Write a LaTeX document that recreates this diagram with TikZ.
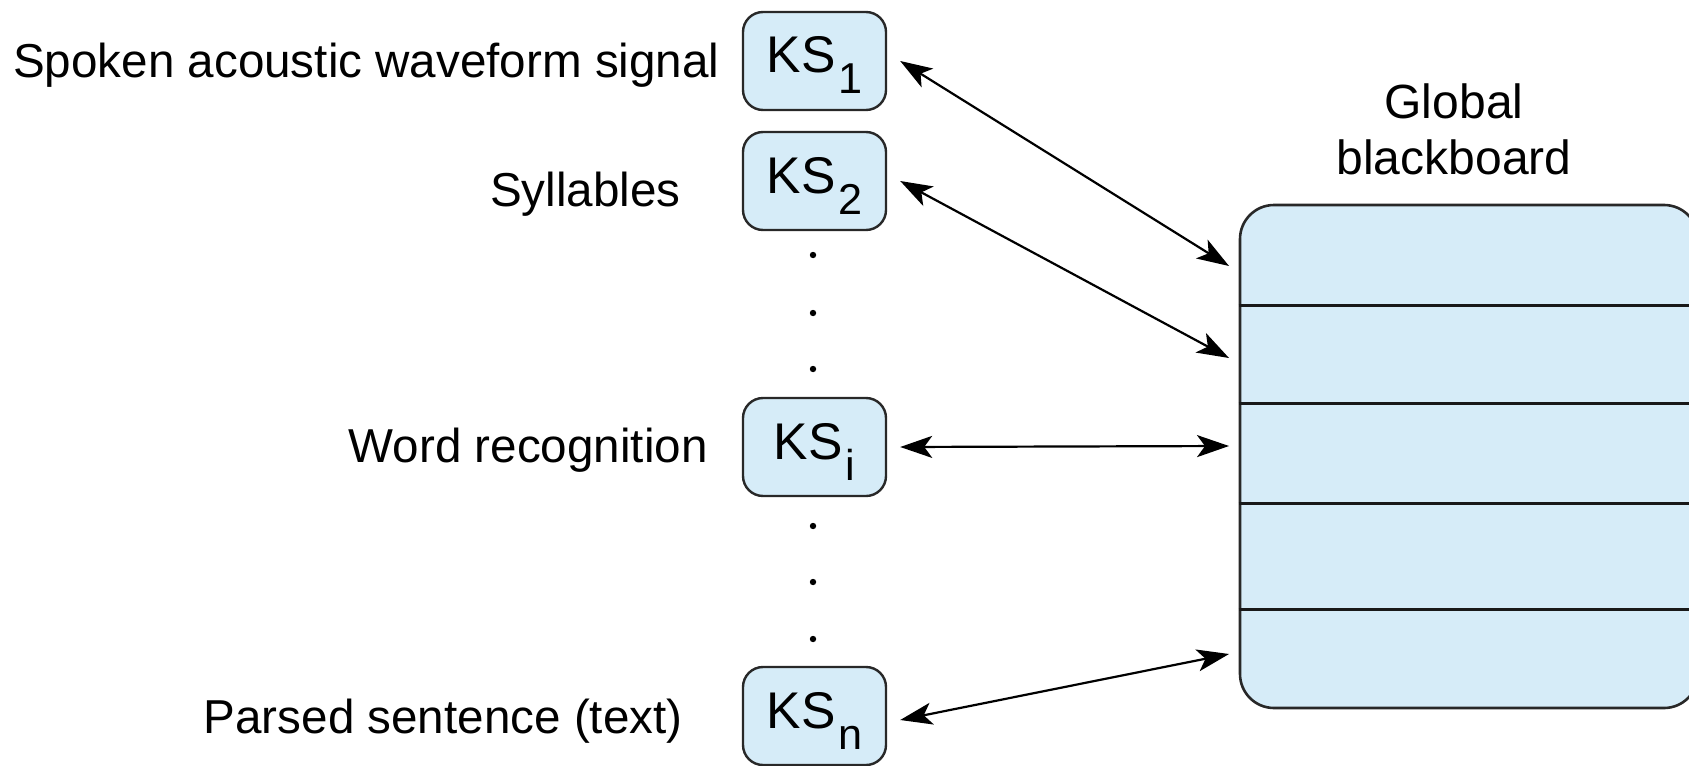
\documentclass[tikz,border=0pt]{standalone}
\usepackage{fontspec}
\setmainfont{Liberation Sans}
\usetikzlibrary{arrows.meta}
\definecolor{ksfill}{RGB}{214,236,248}
\definecolor{ksdraw}{RGB}{40,40,40}
\newcommand{\ksname}[1]{KS\hspace{1.5pt}\raisebox{-10.5pt}{\fontsize{21.6pt}{24pt}\selectfont #1}}
\begin{document}
\begin{tikzpicture}[x=0.5pt,y=-0.5pt,
  ks/.style={draw=ksdraw, fill=ksfill, line width=1.2pt, rounded corners=10pt,
    minimum width=71.5pt, minimum height=49pt, inner sep=0pt,
    text height=20pt, text depth=8pt,
    font=\fontsize{25.8pt}{28pt}\selectfont},
  bbox/.style={draw=ksdraw, fill=ksfill, line width=1.3pt, rounded corners=17pt,
    minimum width=229pt, minimum height=251.5pt, inner sep=0pt},
  lbl/.style={anchor=base east, inner sep=0pt, font=\fontsize{23.8pt}{28pt}\selectfont},
  link/.style={{Stealth[length=16pt,width=11pt,inset=4pt]}-{Stealth[length=16pt,width=11pt,inset=4pt]}, line width=1.1pt},
  dotn/.style={circle, fill=black, inner sep=0pt, minimum size=3.2pt}]
\useasboundingbox (0,0) rectangle (1689,765);

% knowledge sources
\node[ks] (k1) at (814.5,61) {\ksname{1}};
\node[ks] (k2) at (814.5,181) {\ksname{2}};
\node[ks] (ki) at (814.5,447) {\ksname{i}};
\node[ks] (kn) at (814.5,716) {\ksname{n}};

% dots
\node[dotn] (d1) at (813,255) {};
\node[dotn] (d2) at (813,313) {};
\node[dotn] (d3) at (813,369) {};
\node[dotn] (d4) at (813,526) {};
\node[dotn] (d5) at (813,582) {};
\node[dotn] (d6) at (813,639) {};

% labels
\node[lbl] (l1) at (720,78) {Spoken acoustic waveform signal};
\node[lbl] (l2) at (681,206) {Syllables};
\node[lbl] (li) at (708,462) {Word recognition};
\node[lbl] (ln) at (683,733) {Parsed sentence (text)};

% blackboard
\node[bbox] (bb) at (1469,456.5) {};
\foreach \yy in {305,403,503,609}
  \draw[line width=1.5pt, draw=black!90] (bb.west |- 0,\yy) -- (bb.east |- 0,\yy);
\node[align=center, inner sep=0pt, font=\fontsize{24pt}{28pt}\selectfont] (bbl) at (1454,129) {Global\\blackboard};

% arrow ends on the blackboard
\coordinate (t1) at (1229,266);
\coordinate (t2) at (1229,358);
\coordinate (t3) at (1229,446);
\coordinate (t4) at (1229,654);

\draw[link] ([xshift=6.5pt]k1.east) -- (t1);
\draw[link] ([xshift=6.5pt]k2.east) -- (t2);
\draw[link] ([xshift=6.5pt]ki.east) -- (t3);
\draw[link] ([xshift=6.5pt,yshift=-2pt]kn.east) -- (t4);
\end{tikzpicture}
\end{document}
